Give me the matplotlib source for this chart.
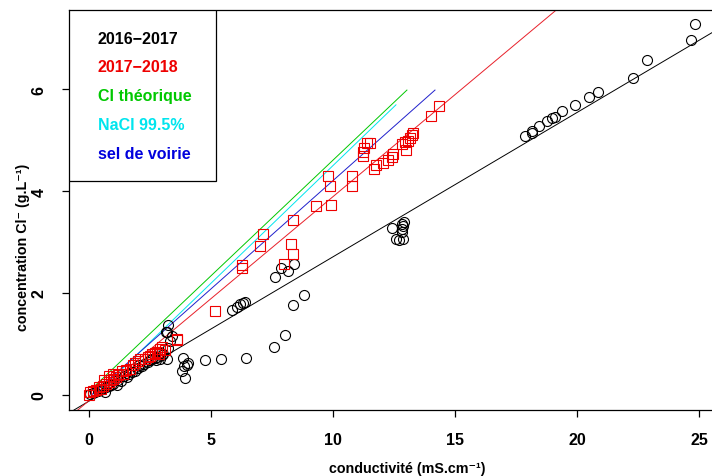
import matplotlib
matplotlib.use("Agg")
import matplotlib.pyplot as plt
from matplotlib.lines import Line2D
from matplotlib.patches import Rectangle

plt.rcParams['font.family'] = ['Liberation Sans', 'DejaVu Sans']
plt.rcParams['font.weight'] = 'bold'

# 2016-2017 (black circles)
x_2016 = [0.05, 0.15, 0.25, 0.35, 0.45, 0.55, 0.66, 0.7, 0.8, 0.9, 1.0, 1.13, 1.2, 1.3,
          1.45, 1.54, 1.65, 1.75, 1.89, 2.0, 2.05, 2.16, 2.25, 2.4, 2.5, 2.6, 2.7, 2.75, 2.8,
          2.9, 3.0, 2.95, 3.05, 3.18, 3.25, 3.18, 3.39, 3.3, 3.25, 3.16,
          3.84, 4.07, 4.0, 3.89, 3.8, 3.93, 4.75, 5.42, 6.42, 5.84, 6.08, 6.19, 6.32, 6.39,
          7.59, 8.05, 8.36, 8.81, 7.62, 7.87, 8.14, 8.41,
          12.43, 12.81, 12.81, 12.85, 12.81, 12.58, 12.72, 12.85, 12.9,
          17.87, 18.16, 18.17, 18.46, 18.76, 18.96, 19.1, 19.38, 19.93, 20.5, 20.85,
          22.28, 22.88, 24.67, 24.84]
y_2016 = [0.02, 0.03, 0.05, 0.08, 0.1, 0.12, 0.05, 0.15, 0.18, 0.2, 0.22, 0.2, 0.3, 0.28,
          0.38, 0.35, 0.42, 0.45, 0.48, 0.52, 0.59, 0.57, 0.6, 0.65, 0.68, 0.7, 0.72, 0.68, 0.75,
          0.7, 0.78, 0.82, 0.8, 0.71, 1.37, 1.23, 1.16, 1.06, 0.93, 1.23,
          0.72, 0.63, 0.59, 0.56, 0.48, 0.33, 0.68, 0.71, 0.73, 1.67, 1.72, 1.78, 1.8, 1.82,
          0.94, 1.17, 1.77, 1.97, 2.32, 2.49, 2.44, 2.57,
          3.27, 3.35, 3.25, 3.31, 3.2, 3.05, 3.03, 3.06, 3.39,
          5.08, 5.13, 5.17, 5.27, 5.37, 5.43, 5.46, 5.57, 5.69, 5.85, 5.95,
          6.22, 6.56, 6.97, 7.27]

# 2017-2018 (red squares)
x_2017 = [0.0, 0.05, 0.15, 0.3, 0.4, 0.5, 0.59, 0.6, 0.7, 0.8, 0.8, 0.9, 1.0, 1.0, 1.1,
          1.2, 1.34, 1.4, 1.5, 1.68, 1.8, 1.9, 2.0, 2.1, 2.3, 2.4, 2.5, 2.6, 2.7, 2.78,
          2.85, 2.91, 3.0, 3.1, 3.59, 3.62, 5.16,
          6.26, 6.28, 7.0, 7.12, 7.99, 8.27, 8.35, 8.35, 9.29, 9.93, 9.78, 9.88, 10.79, 10.79,
          11.21, 11.24, 11.28, 11.38, 11.52, 11.68, 11.75, 12.06, 12.27, 12.4, 12.47,
          12.81, 12.99, 12.97, 13.09, 13.16, 13.22, 13.27, 14.02, 14.33]
y_2017 = [0.0, 0.05, 0.08, 0.1, 0.15, 0.12, 0.18, 0.3, 0.22, 0.25, 0.38, 0.3, 0.31, 0.42, 0.35,
          0.4, 0.48, 0.42, 0.5, 0.51, 0.58, 0.62, 0.66, 0.7, 0.71, 0.75, 0.77, 0.8, 0.83, 0.85,
          0.8, 0.9, 0.95, 0.88, 1.08, 1.1, 1.65,
          2.49, 2.55, 2.93, 3.16, 2.57, 2.97, 2.76, 3.44, 3.71, 3.73, 4.3, 4.09, 4.3, 4.09,
          4.69, 4.76, 4.84, 4.95, 4.95, 4.44, 4.52, 4.55, 4.61, 4.66, 4.73,
          4.92, 4.8, 4.96, 4.99, 5.04, 5.1, 5.13, 5.48, 5.66]

# regression lines (intercept, slope)
fit_2016 = (-0.12, 0.283)
fit_2017 = (-0.11, 0.40)

# reference lines (segments)
cl_x, cl_y = [0.0, 13.03], [0.07, 5.98]
nacl_x, nacl_y = [0.25, 12.58], [0.0, 5.69]
sel_x, sel_y = [0.1, 14.18], [0.0, 5.98]

legend_labels = ['2016\u22122017', '2017\u22122018', 'Cl th\u00e9orique', 'NaCl 99.5%', 'sel de voirie']
legend_colors = ['black', '#ee0000', '#00c800', '#00e5ee', '#0000dd']

W, H = 712, 477
fig = plt.figure(figsize=(W / 100, H / 100), dpi=100)
ax = fig.add_axes([69 / W, 66 / H, (714 - 69) / W, 400 / H])

ax.plot(x_2016, y_2016, 'o', mfc='none', mec='black', ms=7.2, mew=0.8, zorder=3)
ax.plot(x_2017, y_2017, 's', mfc='none', mec='#ee0000', ms=7, mew=0.8, zorder=4)

ax.axline((0, fit_2016[0]), slope=fit_2016[1], color='black', lw=0.7, zorder=2)
ax.axline((0, fit_2017[0]), slope=fit_2017[1], color='#e8202a', lw=0.7, zorder=2)
ax.plot(cl_x, cl_y, color='#00c800', lw=0.7, zorder=2)
ax.plot(nacl_x, nacl_y, color='#00e5ee', lw=0.7, zorder=2)
ax.plot(sel_x, sel_y, color='#2020cc', lw=0.7, zorder=2)

ax.set_xlim(-0.82, (714 - 89) / 24.4)
ax.set_ylim(-0.294, 7.55)
ax.set_xticks([0, 5, 10, 15, 20, 25])
ax.set_yticks([0, 2, 4, 6])
ax.tick_params(direction='out', length=5, width=0.9, pad=11, labelsize=11.5)
ax.tick_params(axis='y', labelrotation=90)
for lab in ax.get_yticklabels():
    lab.set_va('center')
for sp in ax.spines.values():
    sp.set_linewidth(0.9)

ax.set_xlabel('conductivit\u00e9 (mS.cm\u207b\u00b9)', fontsize=10.3, fontweight='bold')
ax.set_ylabel('concentration Cl\u207b (g.L\u207b\u00b9)', fontsize=10.3, fontweight='bold')
ax.xaxis.set_label_coords((407 - 69) / 645, -0.127)
ax.yaxis.set_label_coords(-0.06, 0.41)

# legend: text entries plus a separate frame box
handles = [Line2D([], [], lw=0) for _ in legend_labels]
leg = ax.legend(handles, legend_labels, loc='upper left', bbox_to_anchor=(0, 1),
                borderaxespad=0, frameon=False,
                handlelength=0, handletextpad=0.5, borderpad=1.29, labelspacing=0.86,
                prop={'size': 11.5, 'weight': 'bold'}, labelcolor=legend_colors)
leg.set_zorder(6)
frame = Rectangle((0, (411 - 182) / 400), (216 - 69) / 645, (182 - 11) / 400,
                  transform=ax.transAxes, facecolor='white', edgecolor='black',
                  lw=0.9, zorder=5)
ax.add_patch(frame)

fig.savefig('out.png', dpi=100)
